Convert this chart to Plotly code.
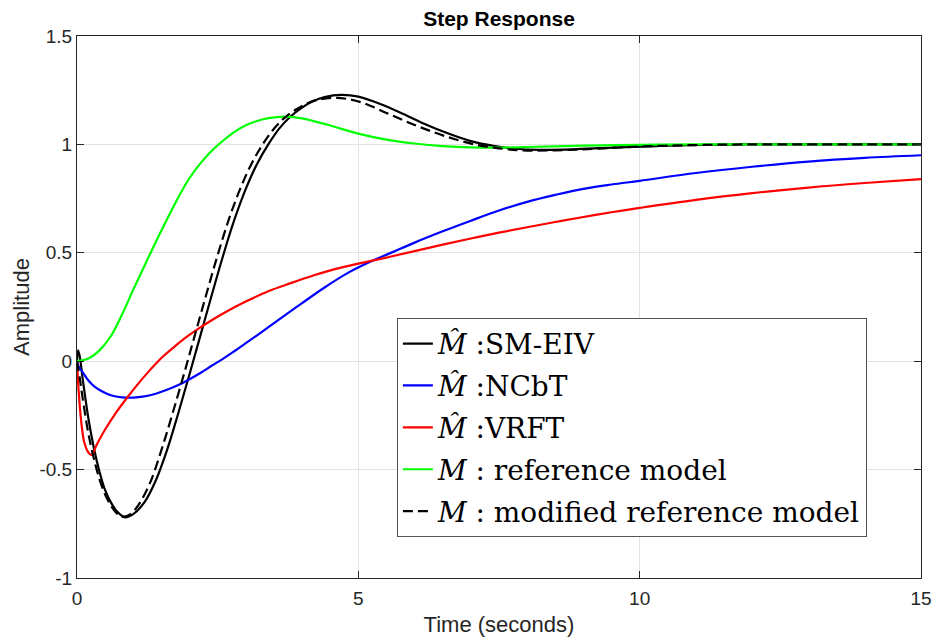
import plotly.graph_objects as go

# --- data ---
t_smeiv = [0, 0.02, 0.05, 0.1, 0.2, 0.3, 0.4, 0.5, 0.6, 0.7, 0.85, 1.0, 1.2, 1.4, 1.6, 1.8, 2.0, 2.2, 2.4, 2.6, 2.8, 3.0, 3.2, 3.4, 3.6, 3.8, 4.0, 4.2, 4.4, 4.7, 5.0, 5.4, 5.8, 6.2, 6.6, 7.0, 7.4, 7.8, 8.2, 8.8, 9.5, 10.5, 11.5, 12.5, 15.0]
y_smeiv = [0, 0.05, 0.02, -0.08, -0.26, -0.40, -0.51, -0.595, -0.65, -0.69, -0.72, -0.705, -0.65, -0.55, -0.41, -0.24, -0.06, 0.125, 0.31, 0.49, 0.655, 0.795, 0.91, 1.0, 1.075, 1.13, 1.17, 1.2, 1.218, 1.228, 1.22, 1.185, 1.14, 1.092, 1.05, 1.015, 0.993, 0.98, 0.975, 0.977, 0.985, 0.994, 0.999, 1.0, 1.0]

t_ncbt = [0, 0.03, 0.1, 0.2, 0.3, 0.45, 0.6, 0.8, 1.0, 1.2, 1.4, 1.6, 1.8, 2.0, 2.2, 2.4, 2.6, 2.8, 3.0, 3.3, 3.6, 4.0, 4.4, 4.8, 5.2, 5.6, 6.0, 6.5, 7.0, 7.5, 8.0, 8.5, 9.0, 9.5, 10.0, 11.0, 12.0, 13.0, 14.0, 15.0]
y_ncbt = [0, -0.025, -0.05, -0.088, -0.115, -0.14, -0.157, -0.167, -0.168, -0.162, -0.15, -0.132, -0.11, -0.083, -0.053, -0.02, 0.012, 0.047, 0.083, 0.138, 0.194, 0.268, 0.34, 0.405, 0.457, 0.502, 0.547, 0.599, 0.648, 0.695, 0.735, 0.767, 0.795, 0.815, 0.832, 0.868, 0.897, 0.921, 0.938, 0.95]

t_vrft = [0, 0.03, 0.08, 0.13, 0.2, 0.26, 0.35, 0.5, 0.7, 0.9, 1.1, 1.3, 1.5, 1.7, 1.9, 2.1, 2.4, 2.7, 3.0, 3.4, 3.8, 4.2, 4.6, 5.0, 5.5, 6.0, 6.5, 7.0, 7.5, 8.0, 8.5, 9.0, 9.5, 10.0, 11.0, 12.0, 13.0, 14.0, 15.0]
y_vrft = [0, -0.14, -0.29, -0.375, -0.42, -0.432, -0.385, -0.315, -0.235, -0.165, -0.1, -0.04, 0.015, 0.06, 0.103, 0.14, 0.19, 0.235, 0.275, 0.323, 0.36, 0.395, 0.426, 0.45, 0.478, 0.508, 0.538, 0.566, 0.593, 0.618, 0.642, 0.665, 0.687, 0.707, 0.744, 0.775, 0.801, 0.822, 0.84]

t_ref = [0, 0.2, 0.4, 0.6, 0.8, 1.0, 1.2, 1.4, 1.6, 1.8, 2.0, 2.2, 2.4, 2.6, 2.8, 3.0, 3.2, 3.4, 3.7, 4.0, 4.5, 5.0, 5.5, 6.0, 6.5, 7.0, 7.5, 8.0, 9.0, 10.0, 11.0, 15.0]
y_ref = [0, 0.012, 0.05, 0.115, 0.215, 0.33, 0.44, 0.55, 0.655, 0.755, 0.845, 0.915, 0.972, 1.018, 1.058, 1.088, 1.108, 1.121, 1.128, 1.12, 1.087, 1.05, 1.022, 1.004, 0.992, 0.986, 0.985, 0.988, 0.994, 0.998, 1.0, 1.0]

t_mod = [0, 0.05, 0.1, 0.2, 0.3, 0.4, 0.5, 0.6, 0.7, 0.8, 0.95, 1.1, 1.3, 1.5, 1.7, 1.9, 2.1, 2.3, 2.5, 2.7, 2.9, 3.1, 3.3, 3.5, 3.7, 3.9, 4.1, 4.3, 4.55, 4.8, 5.1, 5.5, 5.9, 6.3, 6.7, 7.1, 7.5, 7.9, 8.4, 9.0, 10.0, 11.0, 12.0, 15.0]
y_mod = [0, -0.08, -0.17, -0.33, -0.45, -0.545, -0.615, -0.665, -0.7, -0.718, -0.705, -0.66, -0.56, -0.41, -0.24, -0.06, 0.125, 0.31, 0.49, 0.655, 0.795, 0.91, 1.0, 1.072, 1.125, 1.162, 1.19, 1.207, 1.215, 1.21, 1.19, 1.145, 1.1, 1.06, 1.025, 0.998, 0.982, 0.973, 0.972, 0.977, 0.99, 0.997, 1.0, 1.0]

series = [
    ("<i>M̂</i> :SM-EIV", t_smeiv, y_smeiv, "#000000", "solid"),
    ("<i>M̂</i> :NCbT", t_ncbt, y_ncbt, "#0000ff", "solid"),
    ("<i>M̂</i> :VRFT", t_vrft, y_vrft, "#ff0000", "solid"),
    ("<i>M</i> : reference model", t_ref, y_ref, "#00ff00", "solid"),
    ("<i>M</i> : modified reference model", t_mod, y_mod, "#000000", "dash"),
]

x_ticks = [0, 5, 10, 15]
y_ticks = [-1, -0.5, 0, 0.5, 1, 1.5]
y_tick_labels = ["-1", "-0.5", "0", "0.5", "1", "1.5"]

fig = go.Figure()
for i, (name, t, y, color, dash) in enumerate(series):
    fig.add_trace(go.Scatter(
        x=t, y=y, mode="lines", name=name, legendgroup=f"g{i}",
        line=dict(color=color, width=2.2, dash="10px,5px" if dash == "dash" else "solid",
                  shape="spline", smoothing=1.0),
    ))

sans = "Liberation Sans, Arial, Helvetica"
axis_common = dict(
    showline=True, linecolor="#262626", linewidth=1, mirror="ticks",
    ticks="inside", ticklen=7, tickcolor="#262626",
    showgrid=True, gridcolor="#e3e3e3", gridwidth=1, zeroline=False,
    tickfont=dict(family=sans, size=19, color="#262626"),
    automargin=False,
)

fig.update_layout(
    width=936, height=642,
    margin=dict(l=77, r=15, t=36, b=64),
    paper_bgcolor="white", plot_bgcolor="white",
    title=dict(text="<b>Step Response</b>", xref="paper", x=0.5, xanchor="center",
               yref="container", y=1 - 19 / 642, yanchor="middle",
               font=dict(family=sans, size=21, color="#000000")),
    xaxis=dict(range=[0, 15], tickvals=x_ticks, ticktext=[str(v) for v in x_ticks],
               ticklabelstandoff=3,
               title=dict(text="Time (seconds)", standoff=8,
                          font=dict(family=sans, size=22, color="#262626")),
               **axis_common),
    yaxis=dict(range=[-1, 1.5], tickvals=y_ticks, ticktext=y_tick_labels,
               title=dict(text="Amplitude", standoff=3,
                          font=dict(family=sans, size=22, color="#262626")),
               **axis_common),
    legend=dict(x=0.379, y=0.48, xanchor="left", yanchor="top",
                bgcolor="white", bordercolor="#555555", borderwidth=1,
                font=dict(family="DejaVu Serif, Liberation Serif", size=28, color="#000000"),
                itemwidth=30, tracegroupgap=2.5),
    showlegend=True,
)

fig.write_html("out.html",
               config={"displayModeBar": False},
               post_script="document.body.style.margin='0';document.body.style.overflow='hidden';")
